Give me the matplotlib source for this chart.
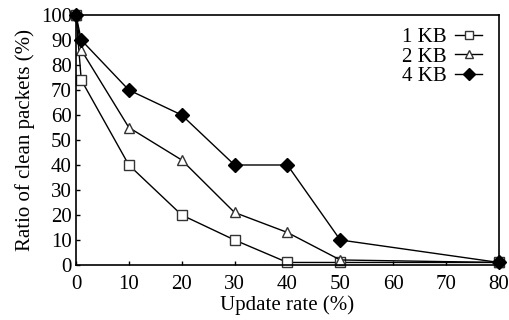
import matplotlib
matplotlib.use("Agg")
import matplotlib.pyplot as plt

x = [0, 1, 10, 20, 30, 40, 50, 80]
kb1 = [100, 74, 40, 20, 10, 1, 1, 1]
kb2 = [100, 86, 55, 42, 21, 13, 2, 1]
kb4 = [100, 90, 70, 60, 40, 40, 10, 1]
labels = ["1 KB", "2 KB", "4 KB"]
xticks = [0, 10, 20, 30, 40, 50, 60, 70, 80]
yticks = list(range(0, 101, 10))

plt.rcParams['font.family'] = ['Liberation Serif', 'DejaVu Serif']
plt.rcParams['font.size'] = 15

fig = plt.figure(figsize=(5.1, 3.2), dpi=100)
ax = fig.add_axes([0.149, 0.172, 0.829, 0.781])

ax.plot(x, kb1, color='black', lw=1, marker='s', mfc='white', mec='#333333', ms=7.5, mew=1, label=labels[0], clip_on=False)
ax.plot(x, kb2, color='black', lw=1, marker='^', mfc='white', mec='#333333', ms=7.5, mew=1, label=labels[1], clip_on=False)
ax.plot(x, kb4, color='black', lw=1, marker='D', mfc='black', mec='black', ms=7, mew=1, label=labels[2], clip_on=False)

ax.set_xlim(0, 80)
ax.set_ylim(0, 100)
ax.set_xticks(xticks)
ax.set_yticks(yticks)
ax.tick_params(axis='x', direction='in', length=3, width=1, pad=7)
ax.tick_params(axis='y', direction='in', length=3, width=1, pad=3)
for s in ax.spines.values():
    s.set_linewidth(1.2)
ax.set_xlabel("Update rate (%)", labelpad=1)
ax.set_ylabel("Ratio of clean packets (%)", labelpad=4)

leg = ax.legend(loc='upper right', frameon=False, markerfirst=False, handlelength=1.3,
                handletextpad=0.4, labelspacing=0.0, borderaxespad=0.2, bbox_to_anchor=(0.99, 1.0))
for h in leg.legend_handles:
    h.set_markersize(6)

fig.savefig("out.png", dpi=100)
